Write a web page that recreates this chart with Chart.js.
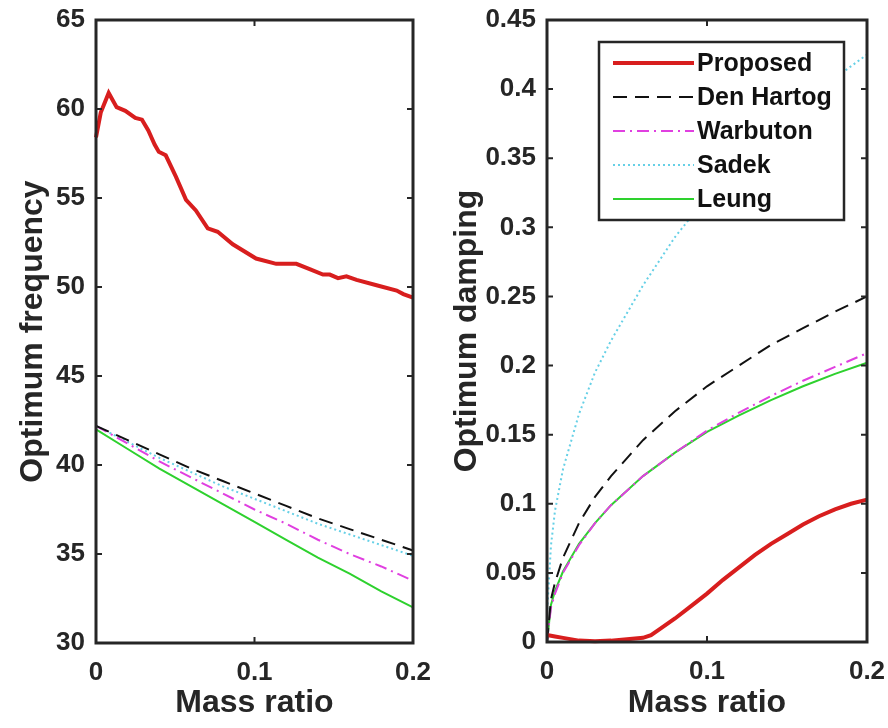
<!DOCTYPE html>
<html>
<head>
<meta charset="utf-8">
<script src="https://cdn.jsdelivr.net/npm/chart.js@4.4.0/dist/chart.umd.min.js"></script>
<style>
  body { margin: 0; background: #fff; }
  #wrap { position: relative; width: 888px; height: 728px; }
  #freqBox { position: absolute; left: 0; top: 0; width: 440px; height: 728px; }
  #dampBox { position: absolute; left: 440px; top: 0; width: 448px; height: 728px; }
</style>
</head>
<body>
<div id="wrap">
  <div id="freqBox"><canvas id="freqChart"></canvas></div>
  <div id="dampBox"><canvas id="dampChart"></canvas></div>
</div>
<script>
// mass ratio grids
const muGrid = [0, 0.02, 0.04, 0.06, 0.08, 0.1, 0.12, 0.14, 0.16, 0.18, 0.2];
const muFine = [0, 0.0025, 0.005, 0.01, 0.02, 0.03, 0.04, 0.06, 0.08, 0.1, 0.12, 0.14, 0.16, 0.18, 0.2];

// optimum frequency
const freqProposedMu = [0, 0.003, 0.008, 0.013, 0.0185, 0.0248, 0.029, 0.033, 0.037, 0.0396, 0.044, 0.0504, 0.0568, 0.063, 0.0705, 0.0768, 0.0863, 0.101, 0.1137, 0.1264, 0.1348, 0.1432, 0.1475, 0.1527, 0.158, 0.1644, 0.177, 0.1897, 0.1939, 0.2];
const freqProposed = [58.4, 59.8, 60.9, 60.1, 59.9, 59.5, 59.4, 58.8, 58.0, 57.6, 57.4, 56.2, 54.9, 54.3, 53.3, 53.1, 52.4, 51.6, 51.3, 51.3, 51.0, 50.7, 50.7, 50.5, 50.6, 50.4, 50.1, 49.8, 49.6, 49.4];
const freqDenHartog = [42.2, 41.4, 40.6, 39.8, 39.1, 38.4, 37.7, 37.0, 36.4, 35.8, 35.2];
const freqWarburton = [42.2, 41.2, 40.2, 39.3, 38.4, 37.5, 36.7, 35.8, 35.0, 34.3, 33.5];
const freqSadek = [42.2, 41.3, 40.4, 39.6, 38.8, 38.1, 37.4, 36.7, 36.1, 35.5, 34.9];
const freqLeung = [42.0, 40.9, 39.8, 38.8, 37.8, 36.8, 35.8, 34.8, 33.9, 32.9, 32.0];

// optimum damping
const dampProposedMu = [0, 0.005, 0.01, 0.02, 0.03, 0.04, 0.05, 0.06, 0.065, 0.07, 0.08, 0.09, 0.1, 0.11, 0.12, 0.13, 0.14, 0.15, 0.16, 0.17, 0.18, 0.19, 0.2];
const dampProposed = [0.005, 0.004, 0.003, 0.001, 0.0005, 0.001, 0.002, 0.003, 0.005, 0.009, 0.017, 0.026, 0.035, 0.045, 0.054, 0.063, 0.071, 0.078, 0.085, 0.091, 0.096, 0.1, 0.103];
const dampDenHartog = [0, 0.031, 0.043, 0.061, 0.086, 0.105, 0.120, 0.146, 0.167, 0.185, 0.200, 0.215, 0.227, 0.239, 0.250];
const dampWarburton = [0, 0.025, 0.035, 0.050, 0.070, 0.086, 0.099, 0.120, 0.137, 0.153, 0.166, 0.178, 0.189, 0.199, 0.209];
const dampSadek = [0.02, 0.07, 0.095, 0.125, 0.165, 0.195, 0.218, 0.258, 0.293, 0.322, 0.346, 0.368, 0.389, 0.408, 0.425];
const dampLeung = [0, 0.027, 0.037, 0.051, 0.071, 0.086, 0.099, 0.120, 0.137, 0.152, 0.164, 0.175, 0.185, 0.194, 0.202];

// tick labels
const muTickLabels = ['0', '0.1', '0.2'];
const freqTickLabels = ['30', '35', '40', '45', '50', '55', '60', '65'];
const dampTickLabels = ['0', '0.05', '0.1', '0.15', '0.2', '0.25', '0.3', '0.35', '0.4', '0.45'];

const FONT = '"Liberation Sans", Arial, Helvetica, sans-serif';
const INK = '#262626';

function pts(xs, ys){
	return ys.map((y, i) => ({x: xs[i], y: y}));
}

function series(label, xs, ys, color, width, dash){
	return {
		label: label,
		data: pts(xs, ys),
		borderColor: color,
		backgroundColor: color,
		borderWidth: width,
		borderDash: dash,
		showLine: true,
		pointRadius: 0,
		tension: 0,
		clip: 4
	};
}

// box frame with inward ticks on all four sides
const boxAxes = {
	id: 'boxAxes',
	afterDatasetsDraw(chart){
		const ctx = chart.ctx;
		const a = chart.chartArea;
		const xs = chart.scales.x, ys = chart.scales.y;
		ctx.save();
		ctx.strokeStyle = INK;
		ctx.lineWidth = 2;
		ctx.beginPath();
		xs.ticks.forEach(t => {
			const px = xs.getPixelForValue(t.value);
			ctx.moveTo(px, a.bottom); ctx.lineTo(px, a.bottom - 6);
			ctx.moveTo(px, a.top); ctx.lineTo(px, a.top + 6);
		});
		ys.ticks.forEach(t => {
			const py = ys.getPixelForValue(t.value);
			ctx.moveTo(a.left, py); ctx.lineTo(a.left + 6, py);
			ctx.moveTo(a.right, py); ctx.lineTo(a.right - 6, py);
		});
		ctx.stroke();
		ctx.lineWidth = 3;
		ctx.strokeRect(a.left, a.top, a.right - a.left, a.bottom - a.top);
		ctx.restore();
	}
};

// legend box inside the damping axes
const boxLegend = {
	id: 'boxLegend',
	afterDraw(chart, args, opts){
		if(!opts.show) return;
		const ctx = chart.ctx;
		ctx.save();
		ctx.fillStyle = '#fff';
		ctx.fillRect(opts.left, opts.top, opts.width, opts.height);
		ctx.strokeStyle = INK;
		ctx.lineWidth = 2.5;
		ctx.strokeRect(opts.left, opts.top, opts.width, opts.height);
		ctx.font = 'bold 25px ' + FONT;
		ctx.textBaseline = 'middle';
		chart.data.datasets.forEach((ds, i) => {
			const y = opts.top + opts.firstRow + i * opts.rowGap;
			ctx.strokeStyle = ds.borderColor;
			ctx.lineWidth = ds.borderWidth;
			ctx.setLineDash(ds.borderDash || []);
			ctx.beginPath();
			ctx.moveTo(opts.left + 14, y);
			ctx.lineTo(opts.left + 95, y);
			ctx.stroke();
			ctx.setLineDash([]);
			ctx.fillStyle = '#111';
			ctx.fillText(ds.label, opts.left + 98, y + 1);
		});
		ctx.restore();
	}
};

// tick gap comes from an invisible tick mark so the scale does not pad the chart area
function axisOpts(min, max, step, labels, title, fitSize, horizontal, titlePad){
	return {
		type: 'linear',
		min: min,
		max: max,
		grid: {
			display: true,
			drawOnChartArea: false,
			drawTicks: true,
			tickLength: horizontal ? 14 : 11,
			color: 'rgba(0,0,0,0)',
			tickColor: 'rgba(0,0,0,0)'
		},
		border: {display: false},
		ticks: {
			stepSize: step,
			autoSkip: false,
			maxRotation: 0,
			padding: 0,
			color: INK,
			font: {family: FONT, size: 26, weight: 'bold'},
			callback: (v, i) => labels[i]
		},
		title: {
			display: true,
			text: title,
			color: INK,
			font: {family: FONT, size: 32, weight: 'bold'},
			padding: horizontal ? {top: 0, bottom: 6} : {top: titlePad, bottom: 0}
		},
		afterFit(scale){
			if(horizontal) scale.height = fitSize;
			else scale.width = fitSize;
		}
	};
}

Chart.register(boxAxes, boxLegend);

new Chart(document.getElementById('freqChart'), {
	type: 'scatter',
	data: {
		datasets: [
			series('Proposed', freqProposedMu, freqProposed, '#d81e1e', 4, []),
			series('Den Hartog', muGrid, freqDenHartog, '#111111', 2, [14, 8]),
			series('Warburton', muGrid, freqWarburton, '#e040e0', 2, [12, 5, 2, 5]),
			series('Sadek', muGrid, freqSadek, '#66d0e6', 2, [2, 3]),
			series('Leung', muGrid, freqLeung, '#2ed12e', 2, [])
		]
	},
	options: {
		responsive: true,
		maintainAspectRatio: false,
		animation: false,
		layout: {padding: {left: 0, right: 27, top: 20, bottom: 0}},
		plugins: {legend: {display: false}, tooltip: {enabled: false}, boxLegend: {show: false}},
		scales: {
			x: axisOpts(0, 0.2, 0.1, muTickLabels, 'Mass ratio', 85, true, 0),
			y: axisOpts(30, 65, 5, freqTickLabels, 'Optimum frequency', 96, false, 14)
		}
	}
});

new Chart(document.getElementById('dampChart'), {
	type: 'scatter',
	data: {
		datasets: [
			series('Proposed', dampProposedMu, dampProposed, '#d81e1e', 4, []),
			series('Den Hartog', muFine, dampDenHartog, '#111111', 2, [14, 8]),
			series('Warbuton', muFine, dampWarburton, '#e040e0', 2, [12, 5, 2, 5]),
			series('Sadek', muFine, dampSadek, '#66d0e6', 2, [2, 3]),
			series('Leung', muFine, dampLeung, '#2ed12e', 2, [])
		]
	},
	options: {
		responsive: true,
		maintainAspectRatio: false,
		animation: false,
		layout: {padding: {left: 0, right: 21, top: 20, bottom: 0}},
		plugins: {
			legend: {display: false},
			tooltip: {enabled: false},
			boxLegend: {show: true, left: 159, top: 42, width: 245, height: 178, firstRow: 21, rowGap: 34}
		},
		scales: {
			x: axisOpts(0, 0.2, 0.1, muTickLabels, 'Mass ratio', 86, true, 0),
			y: axisOpts(0, 0.45, 0.05, dampTickLabels, 'Optimum damping', 107, false, 8)
		}
	}
});
</script>
</body>
</html>
